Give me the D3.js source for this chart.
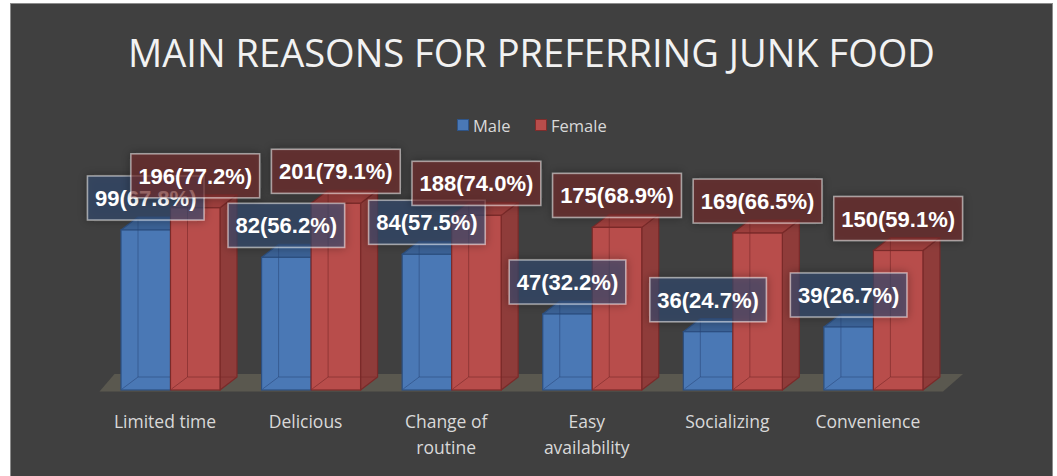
<!DOCTYPE html>
<html>
<head>
<meta charset="utf-8">
<script src="https://cdn.jsdelivr.net/npm/d3@7"></script>
<style>
  html, body { margin: 0; padding: 0; background: #ffffff; }
  svg { display: block; }
</style>
</head>
<body>
<svg id="chart" width="1057" height="476"></svg>
<script>
// ---- data ----
const categories = ["Limited time", "Delicious", "Change of routine", "Easy availability", "Socializing", "Convenience"];
const seriesNames = ["Male", "Female"];
const maleCounts = [99, 82, 84, 47, 36, 39];
const malePct = [67.8, 56.2, 57.5, 32.2, 24.7, 26.7];
const femaleCounts = [196, 201, 188, 175, 169, 150];
const femalePct = [77.2, 79.1, 74.0, 68.9, 66.5, 59.1];
const titleText = "MAIN REASONS FOR PREFERRING JUNK FOOD";

// ---- setup ----
const W = 1057, H = 476;
const svg = d3.select("#chart");

const defs = svg.append("defs");
const glow = defs.append("filter").attr("id", "glow")
  .attr("x", "-30%").attr("y", "-50%").attr("width", "160%").attr("height", "200%");
glow.append("feDropShadow").attr("dx", 0).attr("dy", 0).attr("stdDeviation", 5)
  .attr("flood-color", "#1a1a1a").attr("flood-opacity", 0.55);

// chart background
svg.append("rect").attr("x", 10.5).attr("y", 3.5).attr("width", 1042).attr("height", 490)
  .attr("fill", "#404040").attr("stroke", "#8c8c8c").attr("stroke-width", 1);

// title
const title = svg.append("text")
  .attr("x", 531.5).attr("y", 67)
  .attr("text-anchor", "middle")
  .attr("font-family", "'Open Sans', sans-serif")
  .attr("font-size", 35)
  .attr("fill", "#f2f2f2")
  .text(titleText);
const tw = title.node().getComputedTextLength();
title.attr("font-size", 35 * 807 / tw);

// legend
const legendColors = { Male: "#4a78b5", Female: "#b84d4b" };
const legendStroke = { Male: "#2e5488", Female: "#7e2c2b" };
const legendX = { Male: 457, Female: 535 };
seriesNames.forEach(s => {
  svg.append("rect").attr("x", legendX[s] + 0.5).attr("y", 119.5).attr("width", 11).attr("height", 11)
    .attr("fill", legendColors[s]).attr("stroke", legendStroke[s]).attr("stroke-width", 1);
  svg.append("text").attr("x", legendX[s] + 16).attr("y", 132)
    .attr("font-family", "'Open Sans', sans-serif").attr("font-size", 16.5)
    .attr("fill", "#d9d9d9").text(s);
});

// scales
const x = d3.scaleBand().domain(categories).range([99.5, 943]);
const xs = d3.scaleBand().domain(seriesNames).range([21.5, 120.5]);
const y = d3.scaleLinear().domain([0, 100]).range([390, 154]);

const DX = 17, DY = 13;

// floor
const fx0 = x.range()[0], fx1 = x.range()[1];
const fyF = y(0) + 1.5, fyB = y(0) - 16;
svg.append("path")
  .attr("d", `M${fx0},${fyF} L${fx1},${fyF} L${fx1 + 20},${fyB} L${fx0 + 15},${fyB} Z`)
  .attr("fill", "#5a584f");

const styles = {
  Male: { front: "#4a78b5", top: "#3b6296", side: "#3a5f8f", edge: "#2c4f80", ghost: "rgba(40,70,120,0.55)" },
  Female: { front: "#b84d4b", top: "#9e3f3d", side: "#8f3c3a", edge: "#7a2a29", ghost: "rgba(120,40,40,0.6)" }
};

const rows = categories.map((c, i) => ({
  cat: c,
  bars: [
    { s: "Male", n: maleCounts[i], p: malePct[i] },
    { s: "Female", n: femaleCounts[i], p: femalePct[i] }
  ]
}));

const barsG = svg.append("g");
rows.forEach(r => {
  r.bars.forEach(b => {
    const st = styles[b.s];
    const x0 = x(r.cat) + xs(b.s), w = xs.bandwidth();
    const yT = y(b.p), yB = y(0);
    const g = barsG.append("g");
    g.append("path")
      .attr("d", `M${x0 + w},${yT} L${x0 + w + DX},${yT - DY} L${x0 + w + DX},${yB - DY} L${x0 + w},${yB} Z`)
      .attr("fill", st.side).attr("stroke", st.edge).attr("stroke-width", 1.2).attr("stroke-linejoin", "round");
    g.append("path")
      .attr("d", `M${x0},${yT} L${x0 + DX},${yT - DY} L${x0 + w + DX},${yT - DY} L${x0 + w},${yT} Z`)
      .attr("fill", st.top).attr("stroke", st.edge).attr("stroke-width", 1.2).attr("stroke-linejoin", "round");
    g.append("rect").attr("x", x0).attr("y", yT).attr("width", w).attr("height", yB - yT)
      .attr("fill", st.front).attr("stroke", st.edge).attr("stroke-width", 1.2);
    g.append("path")
      .attr("d", `M${x0 + DX},${yT - DY + 1} L${x0 + DX},${yB - DY} L${x0 + w + DX - 1},${yB - DY} M${x0 + 1},${yB - 1} L${x0 + DX},${yB - DY}`)
      .attr("fill", "none").attr("stroke", st.ghost).attr("stroke-width", 1);
  });
});

// data labels
const labelsG = svg.append("g");
seriesNames.forEach(s => {
  rows.forEach(r => {
    const b = r.bars.find(d => d.s === s);
    const cx = x(r.cat) + xs(s) + xs.bandwidth() / 2;
    const cy = y(b.p) - 32;
    const g = labelsG.append("g");
    const txt = `${b.n}(${b.p.toFixed(1)}%)`;
    const rect = g.append("rect");
    const t = g.append("text")
      .attr("x", cx).attr("y", cy + 8)
      .attr("text-anchor", "middle")
      .attr("font-family", "'Liberation Sans', Arial, sans-serif")
      .attr("font-weight", "bold")
      .attr("font-size", 22)
      .attr("fill", "#ffffff")
      .text(txt);
    const tl = t.node().getComputedTextLength();
    const bw = tl + 15, bh = 44;
    rect.attr("x", cx - bw / 2).attr("y", cy - bh / 2).attr("width", bw).attr("height", bh)
      .attr("fill", s === "Male" ? "rgba(50,75,115,0.58)" : "rgba(118,45,45,0.6)")
      .attr("stroke", "rgba(255,255,255,0.5)").attr("stroke-width", 1.5)
      .attr("filter", "url(#glow)");
  });
});

// category labels with wrapping
const catG = svg.append("g");
categories.forEach(c => {
  const cx = x(c) + 65.5;
  const t = catG.append("text")
    .attr("x", cx).attr("y", 428)
    .attr("text-anchor", "middle")
    .attr("font-family", "'Open Sans', sans-serif")
    .attr("font-size", 17.5)
    .attr("fill", "#d9d9d9");
  const words = c.split(" ");
  let line = [];
  let tspan = t.append("tspan").attr("x", cx).attr("dy", 0);
  words.forEach(wd => {
    line.push(wd);
    tspan.text(line.join(" "));
    if (tspan.node().getComputedTextLength() > 118 && line.length > 1) {
      line.pop();
      tspan.text(line.join(" "));
      line = [wd];
      tspan = t.append("tspan").attr("x", cx).attr("dy", 26).text(wd);
    }
  });
});
</script>
</body>
</html>
